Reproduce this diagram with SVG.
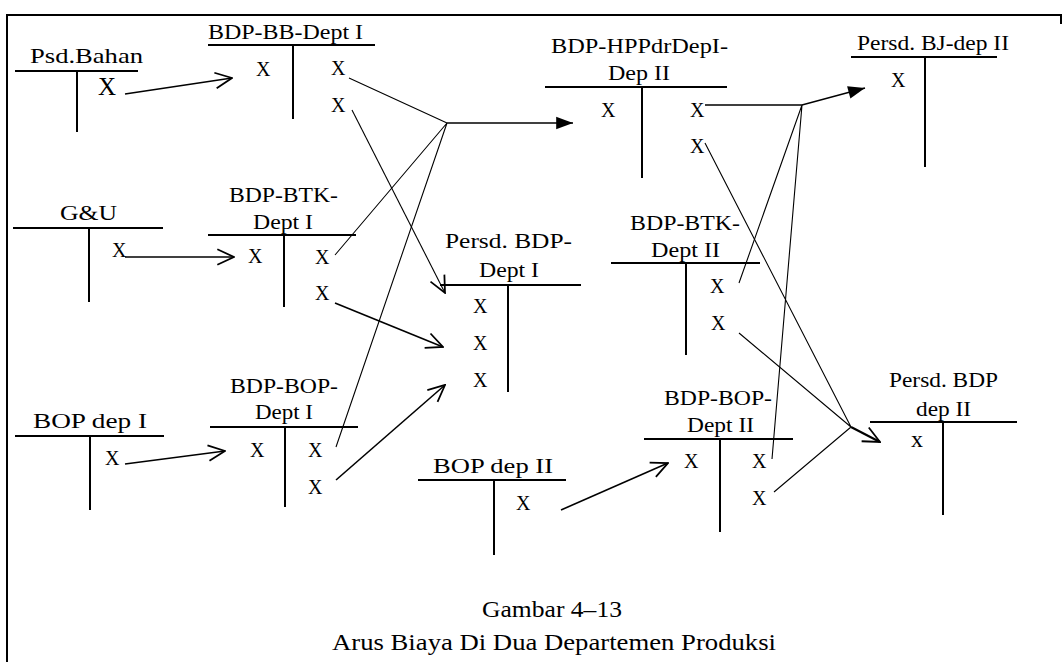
<svg xmlns="http://www.w3.org/2000/svg" width="1064" height="662" viewBox="0 0 1064 662">
<style>
text{font-family:"Liberation Serif","Times New Roman",serif;fill:#000}
.lb{font-size:22px}
.x{font-size:20px}
.cap{font-size:23px}
.t{stroke:#000;stroke-width:2;fill:none}
.a{stroke:#000;stroke-width:1.6;fill:none}
.c{stroke:#000;stroke-width:1.1;fill:none}
</style>
<defs>
<marker id="open" markerUnits="userSpaceOnUse" markerWidth="20" markerHeight="20" viewBox="-17 -9 18 18" refX="0" refY="0" orient="auto">
<path d="M-15,-7 L0,0 L-15,7" fill="none" stroke="#000" stroke-width="1.6"/>
</marker>
<marker id="fill" markerUnits="userSpaceOnUse" markerWidth="20" markerHeight="20" viewBox="-18 -8 19 16" refX="0" refY="0" orient="auto">
<path d="M-16,-6 L0,0 L-16,6 Z" fill="#000"/>
</marker>
</defs>
<rect width="1064" height="662" fill="#fff"/>
<g id="frame">
<path class="t" d="M7,662 V15 H1061 V24"/>
</g>

<g id="psd-bahan">
<text class="lb" x="30" y="63" textLength="113" lengthAdjust="spacingAndGlyphs">Psd.Bahan</text>
<path class="t" d="M15,71 H138 M77,71 V132"/>
<text x="98" y="95" style="font-size:25px">X</text>
</g>

<g id="bdp-bb-dept1">
<text class="lb" x="208" y="39" textLength="155" lengthAdjust="spacingAndGlyphs">BDP-BB-Dept I</text>
<path class="t" d="M208,45 H375 M293,45 V119"/>
<text class="x" x="256" y="76">X</text>
<text class="x" x="331" y="75">X</text>
<text class="x" x="331" y="112">X</text>
</g>

<g id="gu">
<text class="lb" x="60" y="220" textLength="57" lengthAdjust="spacingAndGlyphs">G&amp;U</text>
<path class="t" d="M13,228 H163 M89,228 V302"/>
<text class="x" x="112" y="257">X</text>
</g>

<g id="bdp-btk-dept1">
<text class="lb" x="229" y="202" textLength="109" lengthAdjust="spacingAndGlyphs">BDP-BTK-</text>
<text class="lb" x="253" y="229" textLength="60" lengthAdjust="spacingAndGlyphs">Dept I</text>
<path class="t" d="M208,235 H356 M284,235 V307"/>
<text class="x" x="248" y="263">X</text>
<text class="x" x="315" y="264">X</text>
<text class="x" x="315" y="300">X</text>
</g>

<g id="bop-dep1">
<text class="lb" x="33" y="428" textLength="114" lengthAdjust="spacingAndGlyphs">BOP dep I</text>
<path class="t" d="M15,436 H164 M90,436 V510"/>
<text class="x" x="105" y="465">X</text>
</g>

<g id="bdp-bop-dept1">
<text class="lb" x="230" y="393" textLength="108" lengthAdjust="spacingAndGlyphs">BDP-BOP-</text>
<text class="lb" x="255" y="419" textLength="58" lengthAdjust="spacingAndGlyphs">Dept I</text>
<path class="t" d="M210,427 H358 M285,427 V507"/>
<text class="x" x="250" y="457">X</text>
<text class="x" x="308" y="457">X</text>
<text class="x" x="308" y="494">X</text>
</g>

<g id="persd-bdp-dept1">
<text class="lb" x="445" y="248" textLength="127" lengthAdjust="spacingAndGlyphs">Persd. BDP-</text>
<text class="lb" x="479" y="277" textLength="60" lengthAdjust="spacingAndGlyphs">Dept I</text>
<path class="t" d="M440,285 H581 M508,285 V392"/>
<text class="x" x="473" y="313">X</text>
<text class="x" x="473" y="350">X</text>
<text class="x" x="473" y="387">X</text>
</g>

<g id="bdp-hpp">
<text class="lb" x="551" y="53" textLength="177" lengthAdjust="spacingAndGlyphs">BDP-HPPdrDepI-</text>
<text class="lb" x="608" y="80" textLength="62" lengthAdjust="spacingAndGlyphs">Dep II</text>
<path class="t" d="M545,87 H727 M642,87 V178"/>
<text class="x" x="601" y="117">X</text>
<text class="x" x="690" y="117">X</text>
<text class="x" x="690" y="153">X</text>
</g>

<g id="persd-bj-dep2">
<text class="lb" x="857" y="50" textLength="152" lengthAdjust="spacingAndGlyphs">Persd. BJ-dep II</text>
<path class="t" d="M851,57 H997 M925,57 V167"/>
<text class="x" x="891" y="87">X</text>
</g>

<g id="bdp-btk-dept2">
<text class="lb" x="630" y="230" textLength="110" lengthAdjust="spacingAndGlyphs">BDP-BTK-</text>
<text class="lb" x="651" y="257" textLength="69" lengthAdjust="spacingAndGlyphs">Dept II</text>
<path class="t" d="M611,263 H760 M686,263 V355"/>
<text class="x" x="710" y="293">X</text>
<text class="x" x="711" y="330">X</text>
</g>

<g id="bop-dep2">
<text class="lb" x="433" y="473" textLength="120" lengthAdjust="spacingAndGlyphs">BOP dep II</text>
<path class="t" d="M418,480 H566 M494,480 V555"/>
<text class="x" x="516" y="510">X</text>
</g>

<g id="bdp-bop-dept2">
<text class="lb" x="664" y="405" textLength="108" lengthAdjust="spacingAndGlyphs">BDP-BOP-</text>
<text class="lb" x="687" y="432" textLength="67" lengthAdjust="spacingAndGlyphs">Dept II</text>
<path class="t" d="M644,439 H793 M720,439 V532"/>
<text class="x" x="684" y="468">X</text>
<text class="x" x="752" y="468">X</text>
<text class="x" x="752" y="505">X</text>
</g>

<g id="persd-bdp-dep2">
<text class="lb" x="889" y="387" textLength="109" lengthAdjust="spacingAndGlyphs">Persd. BDP</text>
<text class="lb" x="916" y="416" textLength="55" lengthAdjust="spacingAndGlyphs">dep II</text>
<path class="t" d="M870,422 H1017 M943,422 V515"/>
<text x="911" y="447" style="font-size:24px">x</text>
</g>

<g id="connectors">
<path class="a" d="M125,94 L232,78" marker-end="url(#open)"/>
<path class="a" d="M125,257 L234,257" marker-end="url(#open)"/>
<path class="a" d="M125,464 L225,451" marker-end="url(#open)"/>
<path class="c" d="M349,78 L447,123 M335,255 L447,123 M336,447 L447,123"/>
<path class="a" d="M447,123 L573,123" marker-end="url(#fill)"/>
<path class="c" d="M352,110 L445,293" marker-end="url(#open)"/>
<path class="a" d="M335,303 L443,347" marker-end="url(#open)"/>
<path class="a" d="M336,480 L445,385" marker-end="url(#open)"/>
<path class="a" d="M561,510 L668,463" marker-end="url(#open)"/>
<path class="a" d="M705,105 L802,105 L865,88" marker-end="url(#fill)"/>
<path class="c" d="M739,283 L802,105 M772,459 L802,105"/>
<path class="c" d="M705,143 L851,427 M739,333 L851,427 M774,492 L851,427"/>
<path class="a" d="M851,427 L880,442" marker-end="url(#open)" style="stroke-width:2.2"/>
</g>

<g id="caption">
<text class="cap" x="482" y="617" textLength="140" lengthAdjust="spacingAndGlyphs">Gambar 4–13</text>
<text class="cap" x="332" y="650" textLength="444" lengthAdjust="spacingAndGlyphs">Arus Biaya Di Dua Departemen Produksi</text>
</g>
</svg>
